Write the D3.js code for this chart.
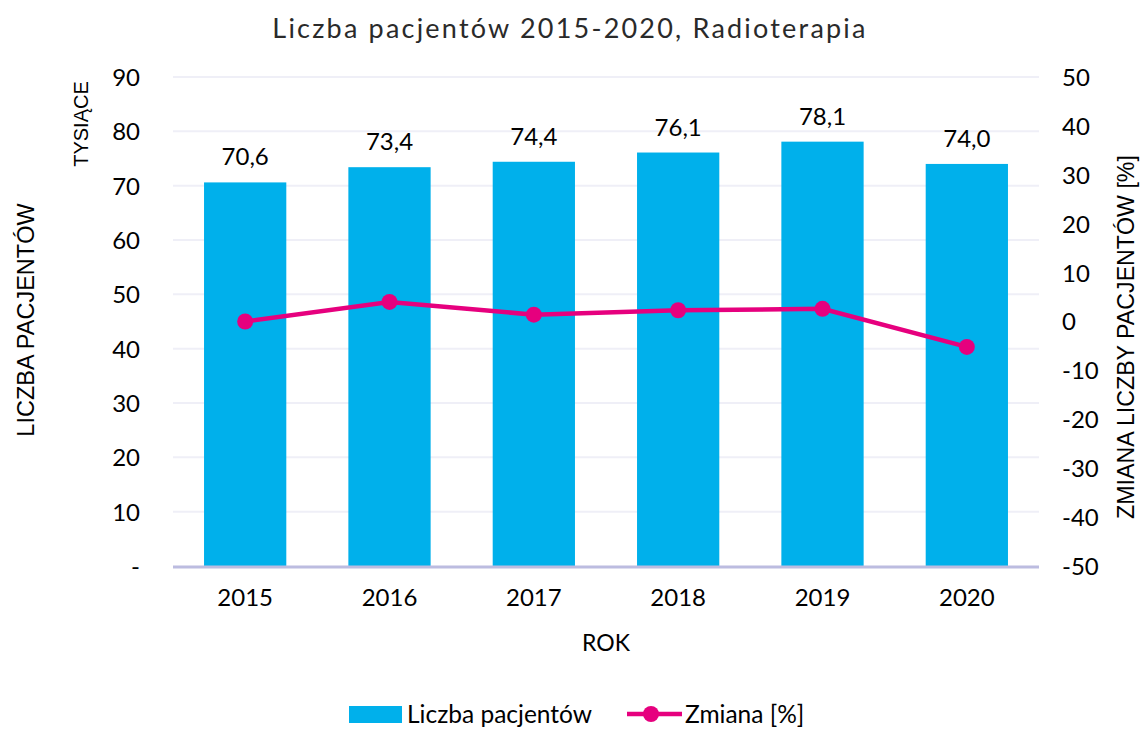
<!DOCTYPE html>
<html>
<head>
<meta charset="utf-8">
<script src="https://cdn.jsdelivr.net/npm/d3@7"></script>
<style>
  body { margin: 0; background: #fff; }
  svg text { font-family: Lato, "Open Sans", sans-serif; fill: #000; }
  svg text.arial { font-family: "Liberation Sans", Arial, sans-serif; }
</style>
</head>
<body>
<div id="chart"></div>
<script>
const years = ["2015", "2016", "2017", "2018", "2019", "2020"];
const patients = [70.6, 73.4, 74.4, 76.1, 78.1, 74.0];
const change = [0, 4.0, 1.4, 2.3, 2.6, -5.2];
const leftTicks = [0, 10, 20, 30, 40, 50, 60, 70, 80, 90];
const rightTicks = [-50, -40, -30, -20, -10, 0, 10, 20, 30, 40, 50];

const W = 1144, H = 729;
const margins = {top: 77, bottom: 163, left: 173, right: 105};
const width = W - margins.left - margins.right;
const height = H - margins.top - margins.bottom;

const svg = d3.select('#chart').append('svg').attr('width', W).attr('height', H);
const g = svg.append('g').attr('transform', `translate(${margins.left}, ${margins.top})`);

const x = d3.scaleBand().domain(years).range([0, width]).paddingInner(0.43).paddingOuter(0.215);
const y = d3.scaleLinear().domain([0, 90]).range([height, 0]);
const y2 = d3.scaleLinear().domain([-50, 50]).range([height, 0]);

// gridlines
g.selectAll('.grid')
    .data(leftTicks.slice(1))
    .enter()
    .append('line')
    .attr('x1', 0).attr('x2', width)
    .attr('y1', d => y(d)).attr('y2', d => y(d))
    .attr('stroke', '#efeff7').attr('stroke-width', 2);

// bars
g.selectAll('.bar')
    .data(patients)
    .enter()
    .append('rect')
    .attr('x', (d, i) => x(years[i]))
    .attr('y', d => y(d))
    .attr('width', x.bandwidth())
    .attr('height', d => height - y(d))
    .attr('fill', '#00b0eb');

// bar labels
g.selectAll('.blabel')
    .data(patients)
    .enter()
    .append('text')
    .attr('x', (d, i) => x(years[i]) + x.bandwidth() / 2)
    .attr('y', d => y(d) - 17)
    .attr('text-anchor', 'middle')
    .style('font-size', '24px')
    .text(d => d3.format('.1f')(d).replace('.', ','));

// x axis line
g.append('line')
    .attr('x1', 0).attr('x2', width)
    .attr('y1', height + 1).attr('y2', height + 1)
    .attr('stroke', '#bcbce0').attr('stroke-width', 3);

// left ticks
const leftAxis = g.append('g').call(d3.axisLeft(y).tickValues(leftTicks).tickSize(0).tickPadding(33)
    .tickFormat(d => d === 0 ? '-' : d));
leftAxis.select('.domain').remove();
leftAxis.selectAll('text').style('font-size', '24px').attr('dy', '0.35em');

// right ticks
const rightAxis = g.append('g').attr('transform', `translate(${width}, 0)`)
    .call(d3.axisRight(y2).tickValues(rightTicks).tickSize(0).tickPadding(23)
        .tickFormat(d => String(d)));
rightAxis.select('.domain').remove();
rightAxis.selectAll('text').style('font-size', '24px').attr('dy', '0.35em');

// bottom ticks
const bottomAxis = g.append('g').attr('transform', `translate(0, ${height})`)
    .call(d3.axisBottom(x).tickSize(0).tickPadding(23));
bottomAxis.select('.domain').remove();
bottomAxis.selectAll('text').style('font-size', '24px');

// change line
const line = d3.line()
    .x((d, i) => x(years[i]) + x.bandwidth() / 2)
    .y(d => y2(d));

g.append('path')
    .datum(change)
    .attr('fill', 'none')
    .attr('stroke', '#e6007e')
    .attr('stroke-width', 4.5)
    .attr('d', line);

g.selectAll('.dot')
    .data(change)
    .enter()
    .append('circle')
    .attr('cx', (d, i) => x(years[i]) + x.bandwidth() / 2)
    .attr('cy', d => y2(d))
    .attr('r', 8)
    .attr('fill', '#e6007e');

// title
svg.append('text')
    .attr('x', 570).attr('y', 38)
    .attr('text-anchor', 'middle')
    .style('font-size', '27px')
    .style('letter-spacing', '2.2px')
    .style('fill', '#2a2a2a')
    .text('Liczba pacjentów 2015-2020, Radioterapia');

// axis titles
svg.append('text')
    .attr('class', 'arial')
    .attr('transform', 'translate(88, 124) rotate(-90)')
    .attr('text-anchor', 'middle')
    .style('font-size', '20px')
    .text('TYSIĄCE');

svg.append('text')
    .attr('class', 'arial')
    .attr('transform', 'translate(34, 320) rotate(-90)')
    .attr('text-anchor', 'middle')
    .style('font-size', '23.5px')
    .text('LICZBA PACJENTÓW');

svg.append('text')
    .attr('class', 'arial')
    .attr('transform', 'translate(1134, 337) rotate(-90)')
    .attr('text-anchor', 'middle')
    .style('font-size', '23.2px')
    .text('ZMIANA LICZBY PACJENTÓW [%]');

svg.append('text')
    .attr('x', 606).attr('y', 651)
    .attr('text-anchor', 'middle')
    .style('font-size', '23px')
    .text('ROK');

// legend
const legend = svg.append('g').attr('transform', 'translate(349, 714)');
legend.append('rect')
    .attr('x', 0).attr('y', -8).attr('width', 53).attr('height', 17)
    .attr('fill', '#00b0eb');
legend.append('text')
    .attr('x', 58).attr('y', 0).attr('dy', '0.35em')
    .style('font-size', '24.5px')
    .text('Liczba pacjentów');
legend.append('line')
    .attr('x1', 278).attr('x2', 333).attr('y1', 0).attr('y2', 0)
    .attr('stroke', '#e6007e').attr('stroke-width', 4.5);
legend.append('circle')
    .attr('cx', 302).attr('cy', 0).attr('r', 8).attr('fill', '#e6007e');
legend.append('text')
    .attr('x', 336).attr('y', 0).attr('dy', '0.35em')
    .style('font-size', '24.5px')
    .text('Zmiana [%]');
</script>
</body>
</html>
